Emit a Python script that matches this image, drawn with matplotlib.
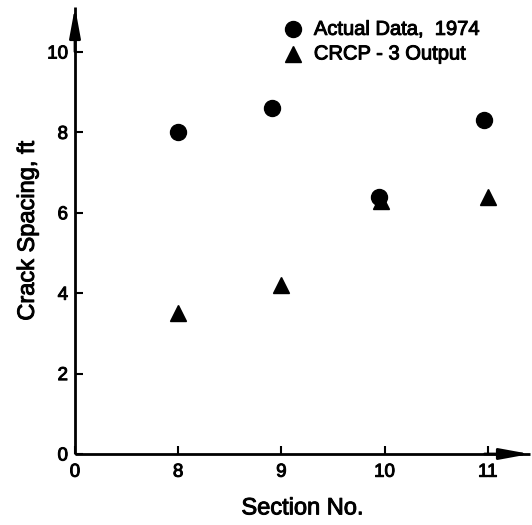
import matplotlib
matplotlib.use("Agg")
import matplotlib.pyplot as plt
import matplotlib.patheffects as pe

plt.rcParams['font.family'] = ['Liberation Sans', 'DejaVu Sans']

# Section labels along the x axis (first entry is the origin)
x_labels = ["0", "8", "9", "10", "11"]
sections = ["8", "9", "10", "11"]
actual_1974 = [8.0, 8.6, 6.4, 8.3]
crcp3_output = [3.5, 4.2, 6.3, 6.4]

# slight horizontal offsets of the two symbol sets
actual_shift = [0.0, -0.09, -0.05, -0.04]
crcp_shift = [0.0, 0.0, -0.03, 0.0]

heavy = [pe.withStroke(linewidth=0.7, foreground='black')]

fig = plt.figure(figsize=(5.32, 5.25), dpi=100)
ax = fig.add_axes([75 / 532, (525 - 454) / 525, (530 - 75) / 532, (454 - 7) / 525])

pos = {lab: i for i, lab in enumerate(x_labels)}
xa = [pos[s] + d for s, d in zip(sections, actual_shift)]
xc = [pos[s] + d for s, d in zip(sections, crcp_shift)]

ax.plot(xa, actual_1974, 'o', color='black', markersize=11.5, linestyle='none', zorder=3)
ax.plot(xc, crcp3_output, '^', color='black', markersize=11.5, linestyle='none', zorder=3)

ax.set_xlim(0, 4.41)
ax.set_ylim(0, 11.12)
ax.set_xticks(range(len(x_labels)))
ax.set_xticklabels(x_labels)
ax.set_yticks([0, 2, 4, 6, 8, 10])

for s in ['top', 'right']:
    ax.spines[s].set_visible(False)
for s in ['left', 'bottom']:
    ax.spines[s].set_linewidth(2)
    ax.spines[s].set_capstyle('butt')

ax.tick_params(direction='in', length=6, width=1.5, labelsize=13.5, pad=7)
ax.tick_params(axis='y', pad=5)
for lab in ax.get_xticklabels() + ax.get_yticklabels():
    lab.set_path_effects(heavy)

# arrowheads at the ends of both axes
arrow_style = '-|>,head_length=1.8,head_width=0.33'
ax.annotate('', xy=(1.0, 0), xytext=(0.9, 0), xycoords='axes fraction',
            arrowprops=dict(arrowstyle=arrow_style, color='black', lw=2,
                            shrinkA=0, shrinkB=0),
            annotation_clip=False)
ax.annotate('', xy=(0, 1.0), xytext=(0, 0.9), xycoords='axes fraction',
            arrowprops=dict(arrowstyle=arrow_style, color='black', lw=2,
                            shrinkA=0, shrinkB=0),
            annotation_clip=False)

ax.set_xlabel("Section No.", fontsize=17, labelpad=12, path_effects=heavy)
ax.set_ylabel("Crack Spacing, ft", fontsize=17, labelpad=6, path_effects=heavy)

# legend entries
ax.plot([0.48], [0.95], 'o', color='black', markersize=11.5, transform=ax.transAxes, clip_on=False)
ax.text(0.525, 0.95, "Actual Data,  1974", transform=ax.transAxes, fontsize=14.5,
        va='center', ha='left', path_effects=heavy)
ax.plot([0.48], [0.895], '^', color='black', markersize=11.5, transform=ax.transAxes, clip_on=False)
ax.text(0.525, 0.895, "CRCP - 3 Output", transform=ax.transAxes, fontsize=14.5,
        va='center', ha='left', path_effects=heavy)

fig.savefig("out.png", dpi=100)
